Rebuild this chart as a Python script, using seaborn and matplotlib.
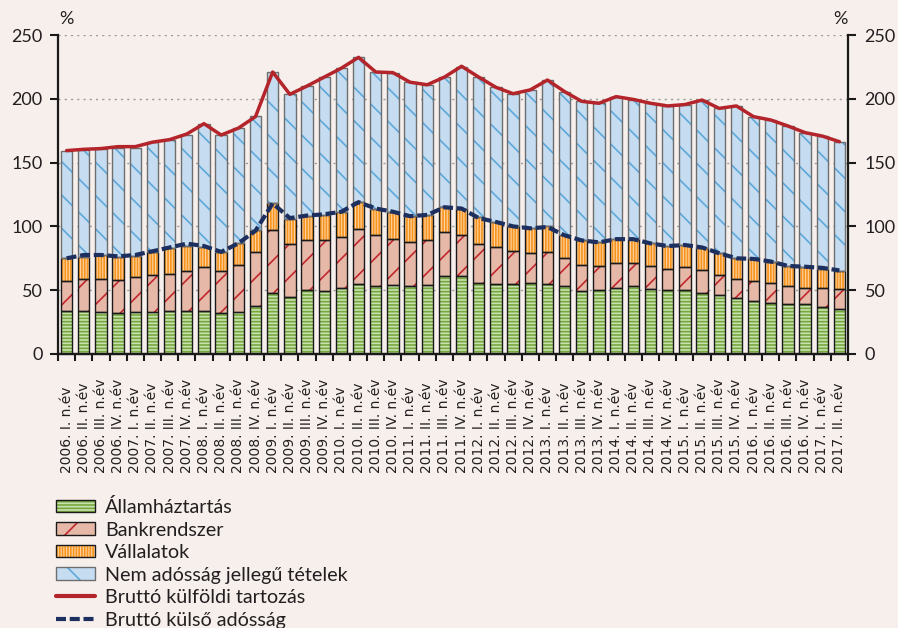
import numpy as np
import matplotlib
matplotlib.use('Agg')
import matplotlib.pyplot as plt
import seaborn as sns
from matplotlib.patches import Patch
from matplotlib.lines import Line2D
from matplotlib.legend_handler import HandlerTuple

# Negyedéves címkék 2006 I. - 2017 II.
romai = ['I.', 'II.', 'III.', 'IV.']
negyedevek = [f'{ev}. {romai[q]} n.év' for ev in range(2006, 2018) for q in range(4)][:46]

# Összetevők (GDP %-a)
allamhaztartas = [34, 34, 33, 32, 33, 33, 34, 34, 34, 32, 33, 38, 48, 45, 50, 49,
                  52, 55, 53, 54, 53, 54, 61, 61, 56, 55, 55, 56, 55, 53, 49, 50,
                  52, 53, 51, 50, 50, 48, 46, 43.6, 41.8, 39.7, 39, 39, 36.6, 35]
bankrendszer = [23, 25, 26, 26, 27, 29, 29, 31, 34, 33, 37, 42, 49, 41, 39, 40,
                40, 43, 40, 36, 35, 35, 35, 32, 30, 29, 26, 23, 25, 22, 21, 19,
                19, 18, 18, 17, 18.4, 18, 16, 14.9, 15.7, 16.3, 14, 12.5, 14.9, 15.7]
vallalatok = [18, 17.3, 18.6, 18, 17, 18, 20, 20, 16, 15, 17, 17, 21.6, 20, 19, 20,
              19.5, 21, 21, 21.5, 20, 20, 19, 21, 21, 19.7, 19, 19.5, 20, 18, 19, 18.5,
              19, 19, 17.7, 17.6, 17, 17, 17, 16.5, 17.5, 16.4, 16, 16.9, 15.5, 14.3]
nem_adossag = [84.4, 83.7, 82.9, 85.5, 84.5, 86, 85, 87, 96.5, 92, 90, 89.5, 102.4, 97.5, 102, 108,
               112.5, 113.5, 107, 109, 105, 102, 102, 111, 110, 105.3, 104, 108.5, 114.7, 112.6, 109, 109,
               111.7, 109, 109.8, 109.8, 109.6, 116, 113.5, 119.4, 111, 111, 109.7, 105.1, 103.8, 101.4]

# Vonalak
brutto_kulfoldi_tartozas = [159.4, 160.4, 161, 162.5, 162.5, 166, 168, 172.4, 180.5, 171.6, 177, 186, 221, 203.5, 210, 217,
                            224, 232.5, 221, 220.5, 213, 211, 217, 225.5, 217, 209, 204, 207, 214.7, 205.6, 198, 196.5,
                            201.7, 199.5, 196.5, 194.4, 195.5, 199, 192.5, 194.4, 186, 183.4, 178.7, 173.5, 170.8, 166.4]
brutto_kulso_adossag = [75, 77.6, 77.6, 76.5, 77.6, 80.5, 83.5, 86.5, 84.6, 80, 86.7, 96.6, 118, 106.5, 108.5, 109.5,
                        111.5, 119, 114, 111.5, 108, 109, 115, 114, 106.5, 103.5, 100, 98.5, 99.5, 93, 89, 87.5,
                        90, 90, 86.7, 84.6, 85.4, 83.5, 79, 75, 74.5, 72.5, 69, 68.4, 67.5, 65.5]

cimkek = ['Államháztartás', 'Bankrendszer', 'Vállalatok', 'Nem adósság jellegű tételek',
          'Bruttó külföldi tartozás', 'Bruttó külső adósság']

hatter = '#f6efec'
szoveg = '#231f20'
piros = '#b3252b'
sotetkek = '#1c2f5e'

sns.set_theme(style='white')
plt.rcParams['font.family'] = ['Lato', 'DejaVu Sans']
plt.rcParams['hatch.linewidth'] = 1.2
plt.rcParams['text.color'] = szoveg

fig = plt.figure(figsize=(8.98, 6.28), dpi=100, facecolor=hatter)
ax = fig.add_axes([58 / 898, 1 - 354 / 628, 790 / 898, 319 / 628])
ax.set_facecolor(hatter)

# (értékek, kitöltés, mintaszín, minta, szegély)
retegek = [
    (allamhaztartas, '#c9e0b1', '#76a83c', '-----', '#1a1a1a'),
    (bankrendszer, '#e6b8a8', '#c1272d', '/', '#1a1a1a'),
    (vallalatok, '#fdd3a4', '#f7941d', '||||||', '#1a1a1a'),
    (nem_adossag, '#c6ddf1', '#5ea7da', '\\', '#6e6e6e'),
]

alap = np.zeros(len(negyedevek))
for ertek, kitoltes, minta_szin, minta, szegely in retegek:
    sns.barplot(x=negyedevek, y=ertek, bottom=alap, color=kitoltes, saturation=1,
                edgecolor=minta_szin, linewidth=0, hatch=minta, width=0.66,
                errorbar=None, ax=ax, zorder=2)
    sns.barplot(x=negyedevek, y=ertek, bottom=alap, fill=False, color=szegely, saturation=1,
                linewidth=1.0, width=0.66, errorbar=None, ax=ax, zorder=3)
    alap = alap + np.array(ertek)

xpos = np.arange(len(negyedevek))
sns.lineplot(x=xpos, y=brutto_kulfoldi_tartozas, color=piros, linewidth=2.5, ax=ax, zorder=4)
sns.lineplot(x=xpos, y=brutto_kulso_adossag, color=sotetkek, linewidth=3.0,
             linestyle=(0, (2.4, 0.9)), ax=ax, zorder=5)

ax.set_xlim(-0.5, len(negyedevek) - 0.5)
ax.set_ylim(0, 250)
ax.set_yticks(range(0, 251, 50))
ax.yaxis.grid(True, color='#9a9a9a', linestyle=(0, (1.5, 3)), linewidth=1)
ax.xaxis.grid(False)
ax.set_axisbelow(True)

# címkék alul egy vonalban kezdődnek (mint az eredetin)
ax.set_xticks(xpos)
ax.set_xticklabels(negyedevek, rotation=90, fontsize=10, color=szoveg,
                   family=['DejaVu Sans'], va='bottom', ha='center')
ax.set_xticks(np.arange(-0.5, len(negyedevek), 1), minor=True)
ax.tick_params(axis='x', which='major', length=0, pad=86)
ax.tick_params(axis='x', which='minor', length=5, width=1.5, direction='out', color='#1a1a1a', bottom=True)
ax.tick_params(axis='y', length=6, width=1.5, direction='out', labelsize=13, pad=5,
               colors='#1a1a1a', labelcolor=szoveg, left=True)
ax.set_xlabel('')
ax.set_ylabel('')

ax2 = ax.twinx()
ax2.set_ylim(0, 250)
ax2.set_yticks(range(0, 251, 50))
ax2.tick_params(axis='y', length=6, width=1.5, direction='out', labelsize=13, pad=6,
                colors='#1a1a1a', labelcolor=szoveg, right=True)
ax2.grid(False)

for a in (ax, ax2):
    a.spines['top'].set_visible(False)
    for s in ('left', 'right', 'bottom'):
        a.spines[s].set_linewidth(1.6)
        a.spines[s].set_color('#1a1a1a')
ax.spines['right'].set_visible(False)
ax2.spines['left'].set_visible(False)

fig.text(66 / 898, 1 - 19 / 628, '%', ha='center', va='center', fontsize=13)
fig.text(840 / 898, 1 - 19 / 628, '%', ha='center', va='center', fontsize=13)

kezelok = []
for _, kitoltes, minta_szin, minta, szegely in retegek:
    kezelok.append((Patch(facecolor=kitoltes, edgecolor=minta_szin, hatch=minta, linewidth=0),
                    Patch(fill=False, edgecolor=szegely, linewidth=1.0)))
kezelok.append(Line2D([], [], color=piros, linewidth=3))
kezelok.append(Line2D([], [], color=sotetkek, linewidth=3, linestyle=(0, (2.4, 0.9))))

fig.legend(kezelok, cimkek, handler_map={tuple: HandlerTuple(ndivide=1)},
           loc='upper left', bbox_to_anchor=(56 / 898, 1 - 498 / 628), frameon=False,
           fontsize=14.2, handlelength=2.0, handleheight=0.6, labelspacing=0.28,
           handletextpad=0.5, borderpad=0, borderaxespad=0)

fig.savefig('out.png', dpi=100, facecolor=hatter)
